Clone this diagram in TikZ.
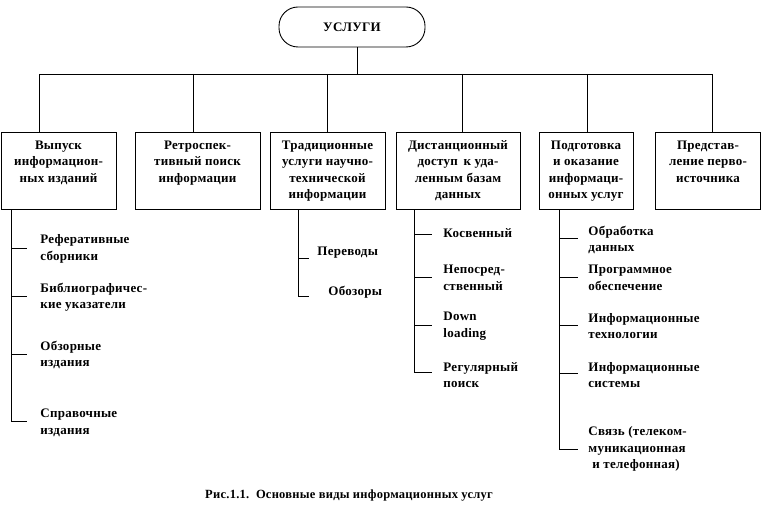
\documentclass[tikz,border=0pt]{standalone}
\usepackage{fontspec}
\setmainfont{Liberation Serif}[LetterSpace=2]
\begin{document}
\begin{tikzpicture}[x=1pt,y=-1pt,line width=0.9pt,
  every node/.style={font=\bfseries\fontsize{13}{16.5}\selectfont},
  box/.style={draw,rectangle,inner sep=0pt,minimum height=77pt},
  btext/.style={align=center,inner sep=0pt,anchor=north},
  itext/.style={align=left,inner sep=0pt,anchor=west},
  topbox/.style={draw,rectangle,rounded corners=19pt,minimum width=146pt,minimum height=40pt,inner sep=0pt}]
\useasboundingbox (0,0) rectangle (762,521);
% top
\node[topbox] (top) at (352,27) {УСЛУГИ};
% boxes
\node[box,minimum width=115pt] (b1) at (58.5,170.5) {};
\node[box,minimum width=125pt] (b2) at (197.5,170.5) {};
\node[box,minimum width=115pt] (b3) at (327.5,170.5) {};
\node[box,minimum width=124pt] (b4) at (458,170.5) {};
\node[box,minimum width=94pt] (b5) at (586,170.5) {};
\node[box,minimum width=105pt] (b6) at (708,170.5) {};
\node[btext] (t1) at ([yshift=-5.5pt]b1.north) {\strut Выпуск\\информацион-\\ных изданий};
\node[btext] (t2) at ([yshift=-5.5pt]b2.north) {\strut Ретроспек-\\тивный поиск\\информации};
\node[btext] (t3) at ([yshift=-5.5pt]b3.north) {\strut Традиционные\\услуги научно-\\технической\\информации};
\node[btext] (t4) at ([yshift=-5.5pt]b4.north) {\strut Дистанционный\\доступ\, к уда-\\ленным базам\\данных};
\node[btext] (t5) at ([yshift=-5.5pt]b5.north) {\strut Подготовка\\и оказание\\информаци-\\онных услуг};
\node[btext] (t6) at ([yshift=-5.5pt]b6.north) {\strut Представ-\\ление перво-\\источника};
% bus
\coordinate (d1) at (39,74);
\coordinate (d2) at (193,74);
\coordinate (d3) at (327,74);
\coordinate (d4) at (462,74);
\coordinate (d5) at (587,74);
\coordinate (d6) at (712,74);
\draw ([xshift=5pt]top.south) -- ([xshift=5pt]top.south |- d1);
\draw (d1) -- (d6);
\foreach \i in {1,...,6} {\draw (d\i) -- (d\i |- b\i.north);}
% branch 1
\coordinate (s1) at (11,421);
\coordinate (k1a) at (27,248);
\coordinate (k1b) at (27,296);
\coordinate (k1c) at (27,354);
\coordinate (k1d) at (27,421);
\draw (b1.south -| s1) |- (k1d);
\foreach \k in {a,b,c} {\draw (s1 |- k1\k) -- (k1\k);}
\node[itext] (r1a) at (40,249) {Реферативные\\сборники};
\node[itext] (r1b) at (40,297) {Библиографичес-\\кие указатели};
\node[itext] (r1c) at (40,355) {Обзорные\\издания};
\node[itext] (r1d) at (40,423) {Справочные\\издания};
% branch 3
\coordinate (s3) at (298,296);
\coordinate (k3a) at (309,258);
\coordinate (k3b) at (309,296);
\draw (b3.south -| s3) |- (k3b);
\draw (s3 |- k3a) -- (k3a);
\node[itext] (r3a) at (317,253) {Переводы};
\node[itext] (r3b) at (328,292) {Обозоры};
% branch 4
\coordinate (s4) at (414,372);
\coordinate (k4a) at (432,234);
\coordinate (k4b) at (432,277);
\coordinate (k4c) at (432,325);
\coordinate (k4d) at (432,372);
\draw (b4.south -| s4) |- (k4d);
\foreach \k in {a,b,c} {\draw (s4 |- k4\k) -- (k4\k);}
\node[itext] (r4a) at (443,233) {Косвенный};
\node[itext] (r4b) at (443,278) {Непосред-\\ственный};
\node[itext] (r4c) at (443,326) {Down\\loading};
\node[itext] (r4d) at (443,375) {Регулярный\\поиск};
% branch 5
\coordinate (s5) at (559,449);
\coordinate (k5a) at (578,238);
\coordinate (k5b) at (578,277);
\coordinate (k5c) at (578,325);
\coordinate (k5d) at (578,373);
\coordinate (k5e) at (578,449);
\draw (b5.south -| s5) |- (k5e);
\foreach \k in {a,b,c,d} {\draw (s5 |- k5\k) -- (k5\k);}
\node[itext] (r5a) at (588,240) {Обработка\\данных};
\node[itext] (r5b) at (588,278) {Программное\\обеспечение};
\node[itext] (r5c) at (588,326) {Информационные\\технологии};
\node[itext] (r5d) at (588,375) {Информационные\\системы};
\node[itext] (r5e) at (588,449) {Связь (телеком-\\муникационная\\\hspace{4pt}и телефонная)};
% caption
\node[font=\bfseries\fontsize{12.5}{14}\selectfont] (cap) at (349,496) {Рис.1.1.\ \ Основные виды информационных услуг};
\end{tikzpicture}
\end{document}
